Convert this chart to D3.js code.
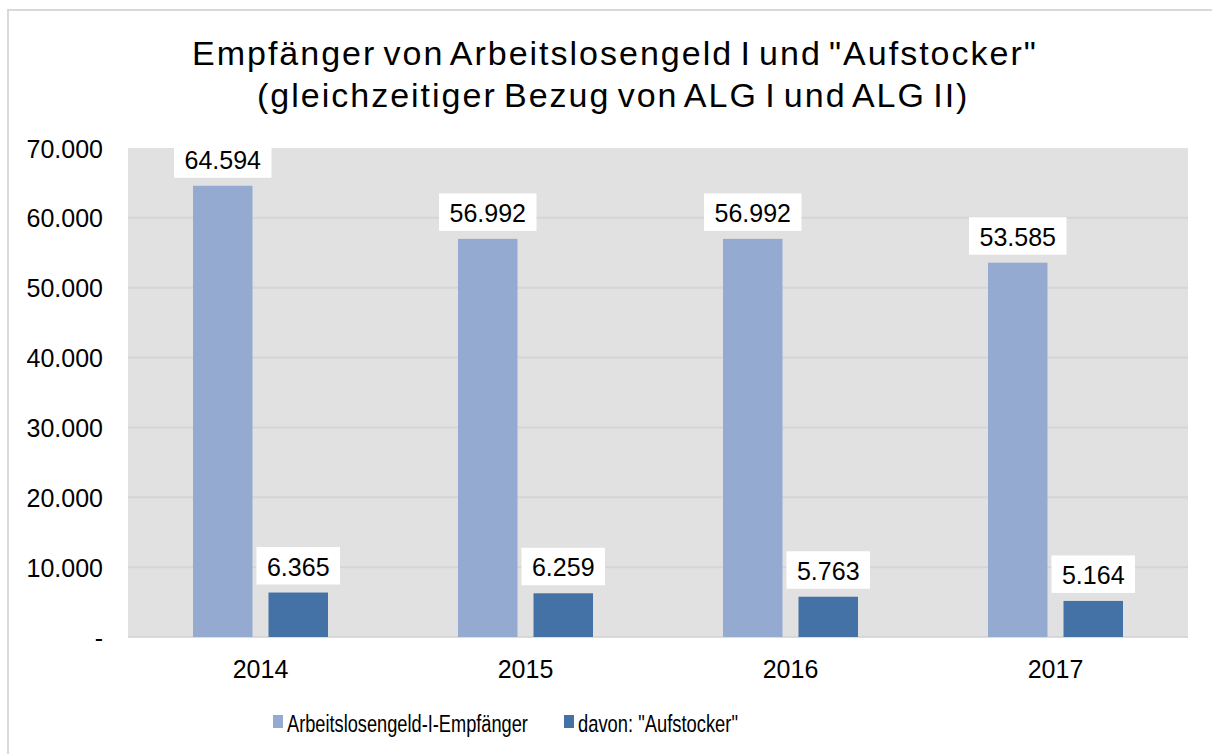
<!DOCTYPE html>
<html><head><meta charset="utf-8">
<script src="https://cdn.jsdelivr.net/npm/d3@7"></script>
<style>
html,body{margin:0;padding:0;background:#fff;}
svg{display:block;font-family:"Liberation Sans",Arial,sans-serif;}
</style></head>
<body>
<svg id="chart" width="1212" height="754"></svg>
<script>
const years = ["2014", "2015", "2016", "2017"];
const seriesNames = ["Arbeitslosengeld-I-Empfänger", "davon: \"Aufstocker\""];
const alg1Values = [64594, 56992, 56992, 53585];
const aufstockerValues = [6365, 6259, 5763, 5164];
const yTicks = [0, 10000, 20000, 30000, 40000, 50000, 60000, 70000];
const titleLines = ["Empfänger von Arbeitslosengeld I und \"Aufstocker\"", "(gleichzeitiger Bezug von ALG I und ALG II)"];
const colors = ["#95aad0", "#4472a6"];

const seriesValues = [alg1Values, aufstockerValues];
const data = years.map((y, i) => ({year: y, values: seriesValues.map((s, k) => ({key: seriesNames[k], k, value: s[i]}))}));

const de = d3.formatLocale({decimal: ",", thousands: ".", grouping: [3], currency: ["", " €"]});
const fmt = de.format(",.0f");
const tickFmt = v => v === 0 ? "-" : fmt(v);

const svg = d3.select("#chart");
const plot = {left: 128, right: 1188, top: 148, bottom: 637};

// outer border
svg.append("rect").attr("x", 8).attr("y", 10).attr("width", 1260).attr("height", 800)
  .attr("fill", "#fff").attr("stroke", "#d9d9d9").attr("stroke-width", 2);

// title
const titleSpec = [{x: 192, y: 65}, {x: 257, y: 107}];
svg.append("g").selectAll("text").data(titleLines).join("text")
  .attr("x", (d, i) => titleSpec[i].x).attr("y", (d, i) => titleSpec[i].y)
  .attr("font-size", 34).attr("letter-spacing", 2.0).attr("word-spacing", -4.2)
  .attr("fill", "#000").text(d => d);

const y = d3.scaleLinear().domain([0, 70000]).range([plot.bottom, plot.top]);
const x0 = d3.scaleBand().domain(years).range([plot.left, plot.right]).padding(0);
const groupW = 135;
const x1 = d3.scaleBand().domain(seriesNames)
  .range([(x0.bandwidth() - groupW) / 2, (x0.bandwidth() + groupW) / 2])
  .paddingInner(0.212).paddingOuter(0);

// plot background
svg.append("rect").attr("x", plot.left).attr("y", plot.top)
  .attr("width", plot.right - plot.left).attr("height", plot.bottom - plot.top).attr("fill", "#e1e1e1");

// gridlines
svg.append("g").selectAll("line").data(yTicks.filter(t => t > 0 && t < 70000)).join("line")
  .attr("x1", plot.left).attr("x2", plot.right)
  .attr("y1", d => y(d)).attr("y2", d => y(d))
  .attr("stroke", "#d5d5d5").attr("stroke-width", 2);
svg.append("line").attr("x1", plot.left).attr("x2", plot.right)
  .attr("y1", y(0)).attr("y2", y(0)).attr("stroke", "#d0d0d0").attr("stroke-width", 1.5);

// y axis
const yAxis = d3.axisLeft(y).tickValues(yTicks).tickFormat(tickFmt).tickSize(0).tickPadding(0);
const gy = svg.append("g").attr("transform", `translate(103,0)`).call(yAxis);
gy.select(".domain").remove();
gy.selectAll("text").attr("font-size", 25).attr("fill", "#000")
  .attr("font-family", "'Liberation Sans', Arial, sans-serif").attr("dy", "0.36em");

// x axis
const xAxis = d3.axisBottom(x0).tickSize(0).tickPadding(0);
const gx = svg.append("g").attr("transform", `translate(0,${plot.bottom})`).call(xAxis);
gx.select(".domain").remove();
gx.selectAll("text").attr("font-size", 25).attr("fill", "#000")
  .attr("font-family", "'Liberation Sans', Arial, sans-serif").attr("dy", 0).attr("y", 41);

// bars
const groups = svg.append("g").selectAll("g").data(data).join("g")
  .attr("transform", d => `translate(${x0(d.year)},0)`);
groups.selectAll("rect").data(d => d.values).join("rect")
  .attr("x", d => x1(d.key)).attr("width", x1.bandwidth())
  .attr("y", d => y(d.value)).attr("height", d => y(0) - y(d.value))
  .attr("fill", d => colors[d.k]);

// labels
svg.append("defs").append("clipPath").attr("id", "plotclip").append("rect")
  .attr("x", plot.left).attr("y", plot.top).attr("width", plot.right - plot.left).attr("height", plot.bottom - plot.top);
const lblLayer = svg.append("g").attr("clip-path", "url(#plotclip)");
data.forEach(d => {
  d.values.forEach(v => {
    const cx = x0(d.year) + x1(v.key) + x1.bandwidth() / 2;
    const t = lblLayer.append("text").attr("x", cx).attr("y", y(v.value) - 17)
      .attr("text-anchor", "middle").attr("font-size", 25).attr("fill", "#000").text(fmt(v.value));
    const w = t.node().getComputedTextLength() + 21;
    lblLayer.insert("rect", "text").attr("x", cx - w / 2).attr("y", y(v.value) - 8 - 37.5)
      .attr("width", w).attr("height", 37.5).attr("fill", "#fff");
  });
});

// legend (text horizontally condensed like the reference)
const legSpec = [{sx: 273, tx: 287, tw: 241}, {sx: 564, tx: 578, tw: 160}];
const leg = svg.append("g");
seriesNames.forEach((n, i) => {
  leg.append("rect").attr("x", legSpec[i].sx).attr("y", 715).attr("width", 10).attr("height", 13).attr("fill", colors[i]);
  const t = leg.append("text").attr("x", 0).attr("y", 0).attr("font-size", 24).attr("fill", "#000").text(n);
  const natural = t.node().getComputedTextLength();
  t.attr("transform", `translate(${legSpec[i].tx},732) scale(${legSpec[i].tw / natural},1)`);
});
</script>
</body></html>
